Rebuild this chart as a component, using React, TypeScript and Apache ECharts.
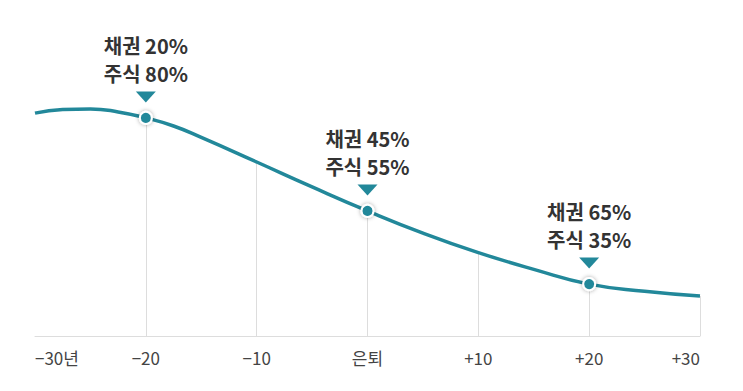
import React, { useEffect, useRef } from "react";
import * as echarts from "echarts";

// x positions (years relative to retirement) and curve heights
const curveX = [-30, -27.5, -25, -22.5, -20, -17.5, -15, -10, -5, 0, 5, 10, 15, 20, 25, 30];
const curveY = [74.3, 75.5, 75.7, 74.7, 72.7, 70, 66.2, 58, 49.7, 41.7, 34.3, 27.8, 22.2, 17.3, 14.9, 13.3];

const tickValues = [-30, -20, -10, 0, 10, 20, 30];
const tickLabels = ["−30년", "−20", "−10", "은퇴", "+10", "+20", "+30"];

// drop lines at these ticks
const dropTicks = [-20, -10, 0, 10, 20, 30];

// annotated points
const markX = [-20, 0, 20];
const markLabels = ["채권 20%\n주식 80%", "채권 45%\n주식 55%", "채권 65%\n주식 35%"];

const TEAL = "#22889a";

export default function App() {
  const ref = useRef<HTMLDivElement>(null);
  useEffect(() => {
    if (!ref.current) return;
    const chart = echarts.init(ref.current, null, { renderer: "svg" });
    const valAt = (x: number) => curveY[curveX.indexOf(x)];
    const lineData = curveX.map((x, i) => ({
      value: [x, curveY[i]],
      symbol: markX.includes(x) ? "circle" : "none",
    }));
    chart.setOption({
      animation: false,
      grid: { left: 35, right: 43, top: 36, bottom: 55 },
      xAxis: {
        type: "value",
        min: -30,
        max: 30,
        interval: 10,
        splitLine: { show: false },
        axisTick: { show: false },
        axisLine: { show: true, lineStyle: { color: "#dddddd", width: 1 } },
        axisLabel: {
          margin: 13,
          fontSize: 17,
          color: "#444",
          fontFamily: "'Noto Sans CJK KR', sans-serif",
          alignMinLabel: "left",
          alignMaxLabel: "right",
          formatter: (v: number) => {
            const i = tickValues.indexOf(v);
            return i >= 0 ? tickLabels[i] : "";
          },
        },
      },
      yAxis: { type: "value", min: 0, max: 100, show: false },
      series: [
        {
          type: "line",
          data: lineData,
          smooth: 0.5,
          showAllSymbol: true,
          symbolSize: 12,
          lineStyle: { color: TEAL, width: 3.5 },
          itemStyle: {
            color: TEAL,
            borderColor: "#fff",
            borderWidth: 2,
            shadowBlur: 4,
            shadowColor: "rgba(0,0,0,0.35)",
          },
          z: 3,
          markLine: {
            silent: true,
            symbol: "none",
            label: { show: false },
            lineStyle: { color: "#dddddd", width: 1, type: "solid" },
            data: dropTicks.map((x) => [
              { coord: [x, 0] },
              { coord: [x, valAt(x)] },
            ]),
            z: 1,
          },
        },
        {
          type: "scatter",
          data: markX.map((x) => [x, valAt(x)]),
          symbol: "triangle",
          symbolRotate: 180,
          symbolSize: [20, 11],
          symbolOffset: [0, -21],
          itemStyle: { color: TEAL, opacity: 1 },
          z: 4,
          label: {
            show: true,
            position: "top",
            distance: 4,
            formatter: (p: any) => markLabels[p.dataIndex],
            fontSize: 20,
            fontWeight: "bold",
            lineHeight: 28,
            color: "#333",
            fontFamily: "'Noto Sans CJK KR', sans-serif",
          },
        },
      ],
    });
    return () => chart.dispose();
  }, []);
  return (
    <div
      ref={ref}
      style={{ position: "fixed", left: 0, top: 0, width: 743, height: 391, background: "#fff" }}
    />
  );
}
